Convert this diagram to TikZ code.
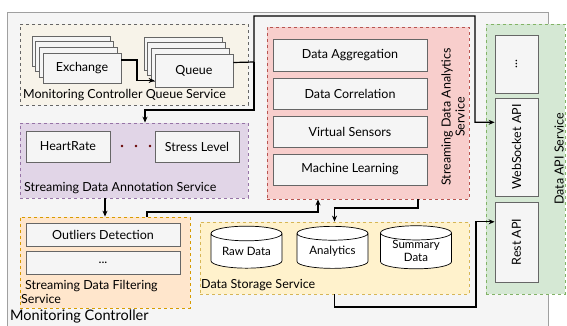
\documentclass[tikz,border=0pt]{standalone}
\usepackage{fontspec}
\setmainfont{Lato}
\usetikzlibrary{shapes.geometric,shadows,arrows.meta,calc}

\definecolor{boxfill}{HTML}{F5F5F5}
\definecolor{boxline}{HTML}{666666}
\definecolor{outerline}{HTML}{A0A0A0}
\definecolor{queuefill}{HTML}{F7F3E9}
\definecolor{anafill}{HTML}{F8CECC}
\definecolor{analine}{HTML}{B85450}
\definecolor{apifill}{HTML}{D5E8D4}
\definecolor{apiline}{HTML}{82B366}
\definecolor{annfill}{HTML}{E1D5E7}
\definecolor{annline}{HTML}{9673A6}
\definecolor{filtfill}{HTML}{FFE6CC}
\definecolor{filtline}{HTML}{D79B00}
\definecolor{storefill}{HTML}{FFF2CC}
\definecolor{storeline}{HTML}{D6B656}
\definecolor{dotred}{HTML}{660000}

\begin{document}
\begin{tikzpicture}[x=1pt, y=-1pt,
	font=\fontsize{12.5}{14}\selectfont,
	service/.style={ draw, dash pattern=on 3pt off 3pt, line width=0.8pt, inner sep=0pt },
	box/.style={ draw=boxline, fill=boxfill, line width=0.8pt, inner sep=1pt,
		drop shadow={shadow xshift=1.2pt, shadow yshift=-1.2pt, opacity=0.3} },
	stackbox/.style={ draw=boxline, fill=boxfill, line width=0.8pt, inner sep=1pt,
		copy shadow={shadow xshift=-11pt, shadow yshift=17pt},
		copy shadow={shadow xshift=-7.4pt, shadow yshift=11.5pt},
		copy shadow={shadow xshift=-3.7pt, shadow yshift=6pt} },
	db/.style={ cylinder, shape border rotate=90, aspect=0.3, draw, line width=0.7pt, fill=white,
		minimum width=71pt, minimum height=42pt, inner sep=0pt, align=center, font=\fontsize{11.5}{13}\selectfont },
	caption/.style={ anchor=west, inner sep=0pt, align=left },
	dot/.style={ circle, fill=dotred, inner sep=0pt, minimum size=2.6pt },
	link/.style={ line width=1.2pt, -{Stealth[length=6pt,width=5pt]} }
]
\clip (0,0) rectangle (567,326);

% monitoring controller
\node at (277.5,176) (mc) [draw=outerline, fill=boxfill, line width=0.8pt, minimum width=541pt, minimum height=328pt] {};
\node at (10,316) (mclabel) [caption, font=\fontsize{14.5}{16}\selectfont] {Monitoring Controller};

% queue service
\node at (134,64.5) (qs) [service, draw=boxline, fill=queuefill, minimum width=228pt, minimum height=81pt] {};
\node at (82,68) (exch) [stackbox, minimum width=78pt, minimum height=30pt] {Exchange};
\node at (194,70.5) (queue) [stackbox, minimum width=78pt, minimum height=33pt] {Queue};
\node at (23,95) (qslabel) [caption] {Monitoring Controller Queue Service};

% annotation service
\node at (134,160.5) (annot) [service, draw=annline, fill=annfill, minimum width=228pt, minimum height=75pt] {};
\node at (68,146.5) (hr) [box, minimum width=84pt, minimum height=31pt] {HeartRate};
\node at (197,146.5) (stress) [box, minimum width=84pt, minimum height=31pt] {Stress Level};
\foreach \x/\n in {122/1,136/2,150/3}
	\node at (\x,146) (dot\n) [dot] {};
\node at (24,188) (annlabel) [caption] {Streaming Data Annotation Service};

% filtering service
\node at (105,262.5) (filter) [service, draw=filtline, fill=filtfill, minimum width=170pt, minimum height=91pt] {};
\node at (103,234.5) (outl) [box, minimum width=154pt, minimum height=23pt] {Outliers Detection};
\node at (103,262.5) (fmore) [box, minimum width=154pt, minimum height=23pt] {...};
\node at (21,291.5) (filtlabel) [caption] {\hspace*{4pt}Streaming Data Filtering\\Service};

% analytics service
\node at (368,113) (analytics) [service, draw=analine, fill=anafill, minimum width=202pt, minimum height=172pt] {};
\node at (350,55) (agg) [box, minimum width=154pt, minimum height=32pt] {Data Aggregation};
\node at (350,93.5) (corr) [box, minimum width=154pt, minimum height=31pt] {Data Correlation};
\node at (350,131.5) (virt) [box, minimum width=154pt, minimum height=31pt] {Virtual Sensors};
\node at (350,169.5) (ml) [box, minimum width=154pt, minimum height=31pt] {Machine Learning};
\node at (453,117) (analabel) [rotate=90, align=center, inner sep=0pt] {Streaming Data Analytics\\Service};

% storage service
\node at (334.5,258) (storage) [service, draw=storeline, fill=storefill, minimum width=269pt, minimum height=72pt] {};
\node at (246.5,251) (raw) [db] {Raw Data};
\node at (332.5,251) (adb) [db] {Analytics};
\node at (416,251) (summary) [db] {Summary\\Data};
\node at (201,285) (storelabel) [caption] {Data Storage Service};

% data api service
\node at (525.5,159) (api) [service, draw=apiline, fill=apifill, minimum width=79pt, minimum height=270pt] {};
\node at (516.5,64) (amore) [box, minimum width=43pt, minimum height=58pt] {\rotatebox{90}{...}};
\node at (516.5,147) (ws) [box, minimum width=43pt, minimum height=98pt] {\rotatebox{90}{WebSocket API}};
\node at (516.5,242) (rest) [box, minimum width=43pt, minimum height=80pt] {\rotatebox{90}{Rest API}};
\node at (559,159) (apilabel) [rotate=90, inner sep=0pt] {Data API Service};

% connectors
\coordinate (exbend) at (137,81);
\coordinate (qsplit) at (254,62);
\coordinate (qtop) at (475,16);
\coordinate (qdown) at (145,110);
\coordinate (fout) at (147,212);
\coordinate (ain) at (318,212);
\coordinate (aout) at (418,208);
\coordinate (sturn) at (476,307);
\coordinate (wsin) at ($(ws.north west)!0.25!(ws.south west)$);
\coordinate (restin) at ($(rest.north west)!0.25!(rest.south west)$);

\draw[link] ([yshift=8pt]exch.east) -| (exbend) |- ([yshift=-10pt]queue.west);
\draw[link] ([yshift=8pt]queue.east) -- (qsplit) |- (qtop) |- (wsin);
\draw[link] (qsplit) |- (qdown) -- (qdown |- annot.north);
\draw[link] (filter.north |- annot.south) -- (filter.north);
\draw[link] (fout |- filter.north) -- (fout) -- (ain) -- (ain |- analytics.south);
\draw[link] (aout |- analytics.south) -- (aout) -| (storage.north);
\draw[link] (storage.south) |- (sturn) |- (restin);

\end{tikzpicture}
\end{document}
